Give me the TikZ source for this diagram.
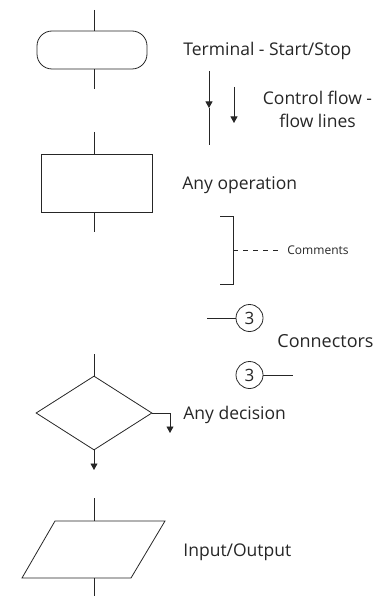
\documentclass[tikz,border=0pt]{standalone}
\usepackage{fontspec}
\setmainfont{Open Sans}
\usetikzlibrary{arrows.meta,shapes.geometric}
\begin{document}
\begin{tikzpicture}[x=1pt,y=-1pt,line width=0.8pt,color=black!85,
  shapebox/.style={draw,inner sep=0pt},
  tip/.style={-{Triangle[length=6.5pt,width=7pt]}},
  label/.style={anchor=base west,inner sep=0pt,font=\fontsize{17.5}{20}\selectfont},
  small/.style={anchor=base west,inner sep=0pt,font=\fontsize{12}{14}\selectfont},
  conn/.style={circle,shapebox,minimum size=27pt,font=\fontsize{17}{20}\selectfont}]
\useasboundingbox (0,0) rectangle (390,596);

% terminal
\node[shapebox,rounded corners=15pt,minimum width=110pt,minimum height=38pt] (term) at (92,50) {};
\coordinate (t0) at (94,10);
\coordinate (t1) at (94,89);
\draw (t0) -- (t0 |- term.north);
\draw (t1 |- term.south) -- (t1);
\node[label] (termlbl) at (183,55.5) {Terminal - Start/Stop};

% control flow arrows
\coordinate (fa) at (209,71);
\coordinate (fm) at (209,108);
\coordinate (fb) at (209,145);
\draw[tip] (fa) -- (fm);
\draw (fm) -- (fb);
\coordinate (ga) at (234,87);
\coordinate (gb) at (234,123);
\draw[tip] (ga) -- (gb);
\node[anchor=base,inner sep=0pt,font=\fontsize{17.5}{20}\selectfont] (cf1) at (317.5,105) {Control flow -};
\node[anchor=base,inner sep=0pt,font=\fontsize{17.5}{20}\selectfont] (cf2) at (317.5,128) {flow lines};

% operation
\node[shapebox,minimum width=111pt,minimum height=58pt] (op) at (96.5,183) {};
\coordinate (o0) at (94,132);
\coordinate (o1) at (94,232);
\draw (o0) -- (o0 |- op.north);
\draw (o1 |- op.south) -- (o1);
\node[label] (oplbl) at (182,189) {Any operation};

% comment bracket
\coordinate (b0) at (220,216);
\coordinate (b1) at (233,216);
\coordinate (b2) at (233,284);
\coordinate (b3) at (220,284);
\draw (b0) -- (b1) -- (b2) -- (b3);
\coordinate (bm) at (233,250);
\coordinate (be) at (278,250);
\draw[dash pattern=on 5pt off 5pt] (bm) -- (be);
\node[small] (cmt) at (287,254) {Comments};

% connectors
\node[conn] (c1) at (249.5,318) {3};
\coordinate (c1l) at (207,318);
\draw (c1l) -- (c1.west);
\node[label,font=\fontsize{18}{20}\selectfont] (connlbl) at (277,347) {Connectors};
\node[conn] (c2) at (249.5,375) {3};
\coordinate (c2r) at (293,375);
\draw (c2.east) -- (c2r);

% decision
\node[diamond,shapebox,minimum width=116pt,minimum height=74pt] (dec) at (94,413) {};
\coordinate (d0) at (94,354);
\draw (d0) -- (dec.north);
\coordinate (dr) at (170,433);
\draw[tip] (dec.east) -| (dr);
\coordinate (db) at (94,470);
\draw[tip] (dec.south) -- (db);
\node[label] (declbl) at (183,419) {Any decision};

% input / output parallelogram
\coordinate (iobl) at (22,578);
\coordinate (iotl) at (55,521);
\coordinate (iotr) at (165,521);
\coordinate (iobr) at (131,578);
\draw (iobl) -- (iotl) -- (iotr) -- (iobr) -- cycle;
\coordinate (i0) at (94,498);
\coordinate (i0e) at (94,521);
\coordinate (i1s) at (94,578);
\coordinate (i1) at (94,596);
\draw (i0) -- (i0e);
\draw (i1s) -- (i1);
\node[label] (iolbl) at (183,556) {Input/Output};
\end{tikzpicture}
\end{document}
